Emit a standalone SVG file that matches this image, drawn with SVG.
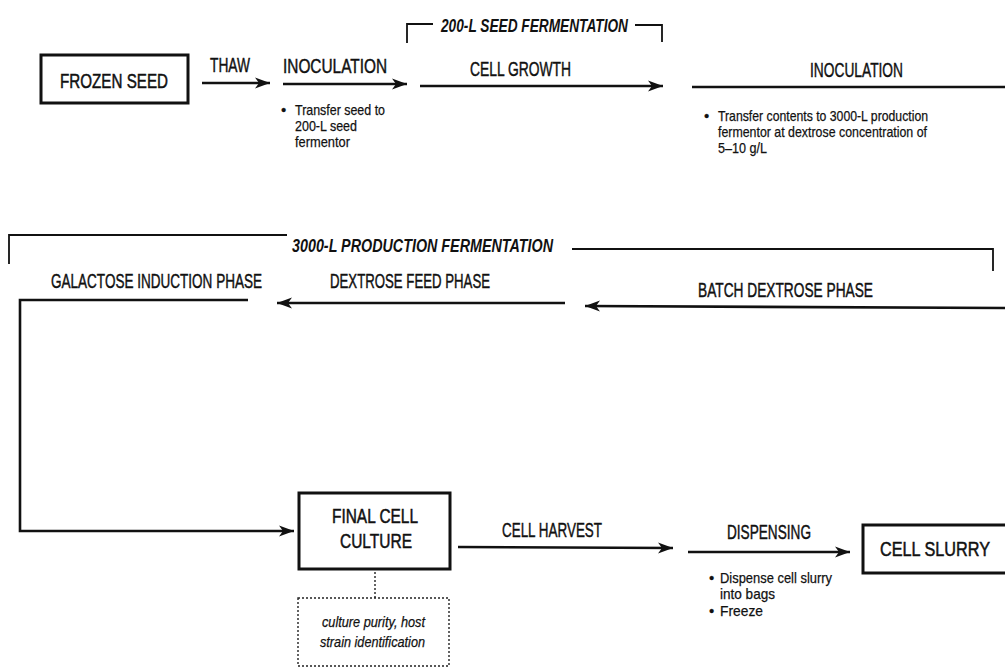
<svg xmlns="http://www.w3.org/2000/svg" width="1005" height="667" viewBox="0 0 1005 667">
<style>
  text { font-family: "Liberation Sans", Arial, sans-serif; fill: #111; }
  .lbl { font-size: 20px; stroke: #111; stroke-width: 0.45; }
  .box-t { font-size: 20px; stroke: #111; stroke-width: 0.5; }
  .brk { font-size: 19px; font-style: italic; font-weight: bold; }
  .bul { font-size: 15px; stroke: #111; stroke-width: 0.25; }
  .note { font-size: 15px; font-style: italic; stroke: #111; stroke-width: 0.25; }
  .box { fill: none; stroke: #111; stroke-width: 3; }
  .dot { fill: none; stroke: #222; stroke-width: 1.4; stroke-dasharray: 2 2; }
  .ln { fill: none; stroke: #111; stroke-width: 2.6; }
  .br { fill: none; stroke: #111; stroke-width: 1.8; }
  .arr { marker-end: url(#ah); }
</style>
<defs>
  <marker id="ah" markerUnits="userSpaceOnUse" markerWidth="16" markerHeight="12" refX="15" refY="6" orient="auto">
    <path d="M0,0.5 L15,6 L0,11.5 L4,6 z" fill="#111"/>
  </marker>
</defs>
<rect width="1005" height="667" fill="#fff"/>

<g id="connectors">
  <line class="ln arr" x1="202" y1="83" x2="270" y2="83"/>
  <line class="ln arr" x1="283" y1="84" x2="407" y2="84"/>
  <line class="ln arr" x1="420" y1="86" x2="663" y2="86"/>
  <line class="ln" x1="692" y1="87" x2="1005" y2="87"/>
  <polyline class="br" points="433,24 407,24 407,43"/>
  <polyline class="br" points="635,25 662,25 662,42"/>
  <polyline class="br" points="287,235 9,235 9,264"/>
  <polyline class="br" points="572,249 993,249 993,271"/>
  <line class="ln arr" x1="1005" y1="308" x2="585" y2="306"/>
  <line class="ln arr" x1="565" y1="303" x2="277" y2="303"/>
  <polyline class="ln arr" points="248,300 20,300 20,531 294,531"/>
  <line class="ln arr" x1="458" y1="547" x2="673" y2="548"/>
  <line class="ln arr" x1="688" y1="552" x2="850" y2="552"/>
  <line class="dot" x1="375" y1="572" x2="375" y2="598"/>
</g>

<g id="frozen-seed">
  <rect class="box" x="41" y="55" width="147" height="48"/>
  <text class="box-t" x="60" y="88" textLength="108" lengthAdjust="spacingAndGlyphs">FROZEN SEED</text>
</g>
<g id="thaw">
  <text class="lbl" x="210" y="72" textLength="40" lengthAdjust="spacingAndGlyphs">THAW</text>
</g>
<g id="inoculation-1">
  <text class="lbl" x="283" y="73" textLength="104" lengthAdjust="spacingAndGlyphs">INOCULATION</text>
  <text class="bul" x="281" y="115">•</text>
  <text class="bul" x="295" y="115" textLength="90" lengthAdjust="spacingAndGlyphs">Transfer seed to</text>
  <text class="bul" x="295" y="131" textLength="62" lengthAdjust="spacingAndGlyphs">200-L seed</text>
  <text class="bul" x="295" y="147" textLength="55" lengthAdjust="spacingAndGlyphs">fermentor</text>
</g>
<g id="seed-fermentation">
  <text class="brk" x="441" y="32" textLength="187" lengthAdjust="spacingAndGlyphs">200-L SEED FERMENTATION</text>
</g>
<g id="cell-growth">
  <text class="lbl" x="470" y="76" textLength="101" lengthAdjust="spacingAndGlyphs">CELL GROWTH</text>
</g>
<g id="inoculation-2">
  <text class="lbl" x="810" y="77" textLength="93" lengthAdjust="spacingAndGlyphs">INOCULATION</text>
  <text class="bul" x="704" y="121">•</text>
  <text class="bul" x="718" y="121" textLength="210" lengthAdjust="spacingAndGlyphs">Transfer contents to 3000-L production</text>
  <text class="bul" x="718" y="137" textLength="209" lengthAdjust="spacingAndGlyphs">fermentor at dextrose concentration of</text>
  <text class="bul" x="718" y="153" textLength="49" lengthAdjust="spacingAndGlyphs">5–10 g/L</text>
</g>
<g id="production-fermentation">
  <text class="brk" x="292" y="252" textLength="261" lengthAdjust="spacingAndGlyphs">3000-L PRODUCTION FERMENTATION</text>
</g>
<g id="galactose">
  <text class="lbl" x="51" y="288" textLength="211" lengthAdjust="spacingAndGlyphs">GALACTOSE INDUCTION PHASE</text>
</g>
<g id="dextrose-feed">
  <text class="lbl" x="330" y="288" textLength="160" lengthAdjust="spacingAndGlyphs">DEXTROSE FEED PHASE</text>
</g>
<g id="batch-dextrose">
  <text class="lbl" x="698" y="297" textLength="175" lengthAdjust="spacingAndGlyphs">BATCH DEXTROSE PHASE</text>
</g>
<g id="final-cell-culture">
  <rect class="box" x="299" y="493" width="151" height="76"/>
  <text class="box-t" x="332" y="523" textLength="86" lengthAdjust="spacingAndGlyphs">FINAL CELL</text>
  <text class="box-t" x="340" y="548" textLength="72" lengthAdjust="spacingAndGlyphs">CULTURE</text>
</g>
<g id="qc-tests">
  <rect class="dot" x="298" y="598" width="151" height="68"/>
  <text class="note" x="322" y="627" textLength="103" lengthAdjust="spacingAndGlyphs">culture purity, host</text>
  <text class="note" x="320" y="647" textLength="105" lengthAdjust="spacingAndGlyphs">strain identification</text>
</g>
<g id="cell-harvest">
  <text class="lbl" x="502" y="537" textLength="100" lengthAdjust="spacingAndGlyphs">CELL HARVEST</text>
</g>
<g id="dispensing">
  <text class="lbl" x="727" y="539" textLength="84" lengthAdjust="spacingAndGlyphs">DISPENSING</text>
  <text class="bul" x="709" y="583">•</text>
  <text class="bul" x="720" y="583" textLength="112" lengthAdjust="spacingAndGlyphs">Dispense cell slurry</text>
  <text class="bul" x="720" y="599" textLength="55" lengthAdjust="spacingAndGlyphs">into bags</text>
  <text class="bul" x="709" y="616">•</text>
  <text class="bul" x="720" y="616" textLength="43" lengthAdjust="spacingAndGlyphs">Freeze</text>
</g>
<g id="cell-slurry">
  <rect class="box" x="863" y="525" width="150" height="48"/>
  <text class="box-t" x="880" y="556" textLength="110" lengthAdjust="spacingAndGlyphs">CELL SLURRY</text>
</g>
</svg>
